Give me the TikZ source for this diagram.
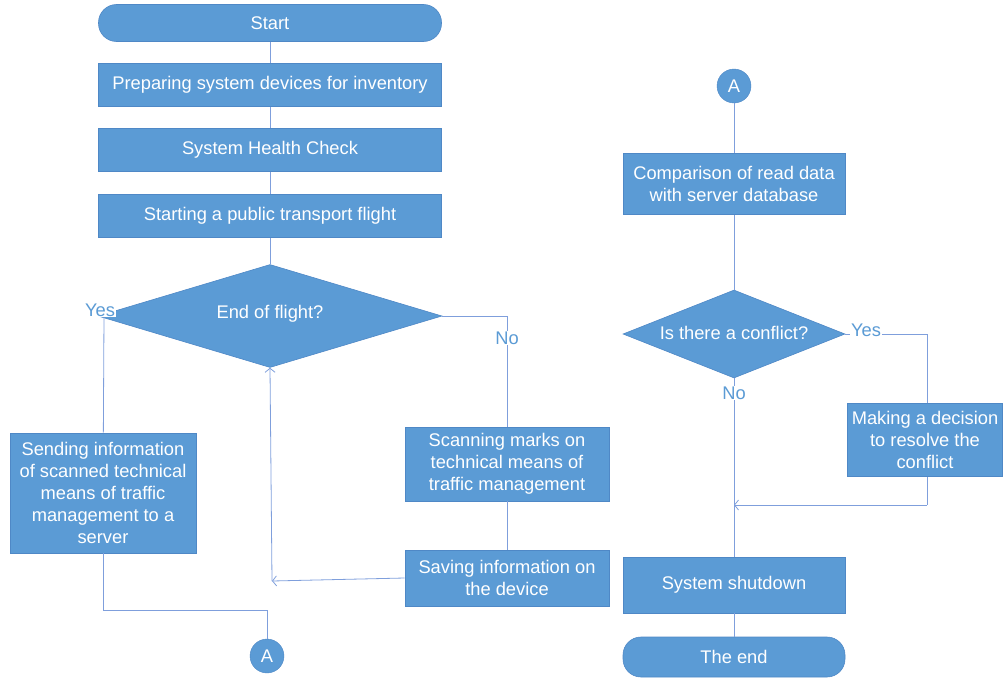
\documentclass[tikz,border=0pt]{standalone}
\usepackage{fontspec}
\setmainfont{Liberation Sans}
\usetikzlibrary{arrows.meta}
\usetikzlibrary{shapes.geometric}

\definecolor{boxblue}{HTML}{5B9BD5}
\definecolor{edgeblue}{HTML}{4F88C6}
\definecolor{lineblue}{HTML}{7F9FDC}

\begin{document}
\begin{tikzpicture}[x=1pt, y=-1pt,
    every node/.style={font=\fontsize{18.3}{22}\selectfont},
    stepbox/.style={draw=edgeblue, fill=boxblue, text=white, align=center,
        inner sep=0pt, line width=0.6pt},
    termbox/.style={stepbox, rounded corners=18pt},
    decide/.style={stepbox, diamond, aspect=3.3},
    joint/.style={circle, draw=edgeblue, fill=boxblue, text=white,
        minimum size=34pt, inner sep=0pt},
    answer/.style={text=boxblue, fill=white, inner sep=1pt},
    flow/.style={draw=lineblue, line width=0.8pt},
    flowto/.style={flow, -{Straight Barb[length=4pt, width=10pt, line width=0.8pt]}}]
            \useasboundingbox (0,0) rectangle (1003,680);

            % left column
            \node[termbox, minimum width=343pt, minimum height=37pt] (start) at (270,23) {Start};
            \node[stepbox, minimum width=343pt, minimum height=43pt] (prep) at (270,85) {Preparing system devices for inventory};
            \node[stepbox, minimum width=343pt, minimum height=43pt] (health) at (270,150) {System Health Check};
            \node[stepbox, minimum width=343pt, minimum height=43pt] (flight) at (270,216) {Starting a public transport flight};
            \node[decide, minimum width=344pt, minimum height=103pt] (endq) at (270,316) {};
            \node[text=white] at (270,314) {End of flight?};
            \node[stepbox, minimum width=186pt, minimum height=120pt] (send) at (103,493)
                {Sending information\\of scanned technical\\means of traffic\\management to a\\server};
            \node[stepbox, minimum width=204pt, minimum height=74pt] (scan) at (507,464)
                {Scanning marks on\\technical means of\\traffic management};
            \node[stepbox, minimum width=204pt, minimum height=56pt] (save) at (507,578)
                {Saving information on\\the device};
            \node[joint] (outA) at (267,656) {A};

            \coordinate (back) at (272,581);
            \coordinate (sendlow) at (103,610);
            \coordinate (yesturn) at (104,316);
            \coordinate (noturn) at (507,316);

            \draw[flow] (start) -- (prep);
            \draw[flow] (prep) -- (health);
            \draw[flow] (health) -- (flight);
            \draw[flow] (flight) -- (endq);
            \draw[flow] (endq.east) -- (noturn) -- (scan);
            \draw[flow] (scan) -- (save);
            \draw[flowto] (save.west) -- (back);
            \draw[flowto] (back) -- (endq.south);
            \draw[flow] (endq.west) -- (yesturn) -- (send);
            \draw[flow] (send) -- (sendlow) -| (outA);
            \node[answer] at (100,310) {Yes};
            \node[answer] at (507,338) {No};

            % right column
            \node[joint] (inA) at (734,86) {A};
            \node[stepbox, minimum width=222pt, minimum height=61pt] (compare) at (734,184)
                {Comparison of read data\\with server database};
            \node[decide, minimum width=222pt, minimum height=88pt, aspect=2.5] (conflict) at (734,334) {};
            \node[text=white] at (734,333) {Is there a conflict?};
            \node[stepbox, minimum width=155pt, minimum height=73pt] (resolve) at (925,440)
                {Making a decision\\to resolve the\\conflict};
            \node[stepbox, minimum width=222pt, minimum height=56pt] (shutdown) at (734,585) {System shutdown};
            \node[termbox, minimum width=222pt, minimum height=40pt] (finish) at (734,657) {The end};

            \coordinate (merge) at (734,505);
            \coordinate (yesright) at (927,334);
            \coordinate (resolvelow) at (927,505);

            \draw[flow] (inA) -- (compare);
            \draw[flow] (compare) -- (conflict);
            \draw[flow] (conflict.east) -- (yesright) -- (resolve.north -| yesright);
            \draw[flow] (resolve.south -| yesright) -- (resolvelow);
            \draw[flowto] (resolvelow) -- (merge);
            \draw[flow] (conflict.south) -- (shutdown);
            \draw[flow] (shutdown) -- (finish);
            \node[answer] at (866,330) {Yes};
            \node[answer] at (734,393) {No};
        \end{tikzpicture}
\end{document}
